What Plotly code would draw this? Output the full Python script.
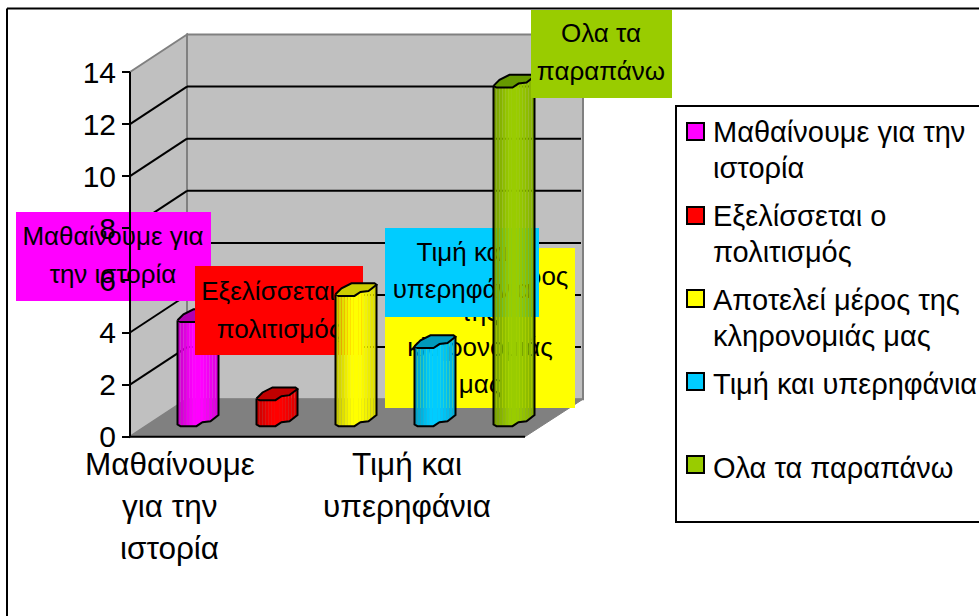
import plotly.graph_objects as go

# ---- data ----
categories = ["Μαθαίνουμε για την ιστορία", "Εξελίσσεται ο πολιτισμός",
              "Αποτελεί μέρος της κληρονομιάς μας", "Τιμή και υπερηφάνια", "Ολα τα παραπάνω"]
values = [4, 1, 5, 3, 13]
y_ticks = [0, 2, 4, 6, 8, 10, 12, 14]
colors = ["#FF00FF", "#FF0000", "#FFFF00", "#00CCFF", "#99CC00"]
caps = ["#B000B0", "#C00000", "#CCCC00", "#0099BB", "#669900"]

label_lines = [["Μαθαίνουμε για", "την ιστορία"],
               ["Εξελίσσεται ο", "πολιτισμός"],
               ["Αποτελεί μέρος", "της", "κληρονομιάς", "μας"],
               ["Τιμή και", "υπερηφάνια"],
               ["Ολα τα", "παραπάνω"]]
label_boxes = [(16, 212, 211, 301), (195, 266, 363, 355), (385, 248, 575, 408),
               (385, 228, 539, 317), (531, 10, 672, 98)]
label_line_y = [[238, 276], [293, 331], [278, 314, 349, 386], [254, 291], [35, 73]]
label_cx = [113, 279, 480, 462, 601]

legend_lines = [["Μαθαίνουμε για την", "ιστορία"], ["Εξελίσσεται ο", "πολιτισμός"],
                ["Αποτελεί μέρος της", "κληρονομιάς μας"], ["Τιμή και υπερηφάνια"], ["Ολα τα παραπάνω"]]
legend_line_y = [[132, 168], [216, 252], [300, 336], [384], [468]]
legend_box_y = [123, 207, 290, 373, 456]

axis_labels = {0: ["Μαθαίνουμε", "για την", "ιστορία"], 3: ["Τιμή και", "υπερηφάνια"]}
axis_label_y = [464, 506, 548]

# ---- geometry (canvas pixels) ----
W, H = 979, 616
UNIT = 26.05       # pixels per value unit
Y0_AXIS = 436.7    # pixel of value 0 on the front axis
Y0_BAR = 424.5     # pixel of value 0 at the foot of the columns
DEPTH = 37.5
SLOT = 79.0
X0_CAT = 169.5     # pixel of first category
BAR_LEFT0 = 177.5
BAR_W = 41

def X(px):
    return (px - X0_CAT) / SLOT
def YA(py):
    return (Y0_AXIS - py) / UNIT
def YB(py):
    return (Y0_BAR - py) / UNIT
def pxx(px):
    return px / W
def pxy(py):
    return 1 - py / H

range_x = [X(0), X(W)]
range_axis = [YA(H), YA(0)]
range_bar = [YB(H), YB(0)]

# front-edge profile of the low-poly column (pixel offsets)
PROF_DX = [0, 3, 19, 25, 33, 41]
PROF_DY = [0, 1.7, 1.7, -2.3, -3.3, -9.5]
CAP_DX = [0, 6, 16, 39, 41]
CAP_DY = [0, -6, -11, -11, -9.5]
SHADE = [0.78, 0.84, 0.88, 0.93, 0.97, 1, 1, 1, 1, 0.98, 0.96, 0.93, 0.9, 0.86]

def prof(dx):
    for k in range(len(PROF_DX) - 1):
        if PROF_DX[k] <= dx <= PROF_DX[k + 1]:
            t = (dx - PROF_DX[k]) / (PROF_DX[k + 1] - PROF_DX[k])
            return PROF_DY[k] + t * (PROF_DY[k + 1] - PROF_DY[k])
    return PROF_DY[-1]

def shade(hex_color, f):
    r, g, b = int(hex_color[1:3], 16), int(hex_color[3:5], 16), int(hex_color[5:7], 16)
    return f"rgb({int(r*f)},{int(g*f)},{int(b*f)})"

fig = go.Figure()

def yname(n):
    return "y" if n == 1 else f"y{n}"

def layer_y(layer, py):
    return YA(py) if layer == 1 else YB(py)

def add_label(i, layer):
    x0, y0, x1, y1 = label_boxes[i]
    fig.add_trace(go.Scatter(
        x=[X(x0), X(x1), X(x1), X(x0), X(x0)],
        y=[layer_y(layer, y0), layer_y(layer, y0), layer_y(layer, y1), layer_y(layer, y1), layer_y(layer, y0)],
        mode="lines", fill="toself", fillcolor=colors[i], line=dict(width=0),
        yaxis=yname(layer), showlegend=False, hoverinfo="skip"))
    fig.add_trace(go.Scatter(
        x=[X(label_cx[i])] * len(label_lines[i]),
        y=[layer_y(layer, v) for v in label_line_y[i]],
        text=label_lines[i], mode="text", textposition="middle center",
        textfont=dict(family="Liberation Sans", size=LABEL_FS, color="black"),
        yaxis=yname(layer), showlegend=False, hoverinfo="skip"))

def add_column(i, layer):
    v = values[i]
    left = BAR_LEFT0 + i * SLOT
    n = len(SHADE)
    sw = BAR_W / n
    xs, bases, ys, cols = [], [], [], []
    for s in range(n):
        mid = (s + 0.5) * sw
        off = -prof(mid) / UNIT
        xs.append(X(left + mid))
        bases.append(off)
        ys.append(v)
        cols.append(shade(colors[i], SHADE[s]))
    fig.add_trace(go.Bar(x=xs, y=ys, base=bases, width=sw / SLOT,
                         marker=dict(color=cols, line=dict(width=0)),
                         yaxis=yname(layer), name=categories[i], showlegend=False,
                         hoverinfo="skip"))
    # top cap
    cx = [X(left + d) for d in CAP_DX] + [X(left + d) for d in reversed(PROF_DX)]
    cy = [v - d / UNIT for d in CAP_DY] + [v - d / UNIT for d in reversed(PROF_DY)]
    fig.add_trace(go.Scatter(x=cx, y=cy, mode="lines", fill="toself", fillcolor=caps[i],
                             line=dict(color="black", width=2), yaxis=yname(layer),
                             showlegend=False, hoverinfo="skip"))
    # silhouette
    sx = [X(left)] + [X(left + d) for d in PROF_DX] + [X(left + BAR_W)]
    sy = [v] + [-d / UNIT for d in PROF_DY] + [v - PROF_DY[-1] / UNIT]
    fig.add_trace(go.Scatter(x=sx, y=sy, mode="lines", line=dict(color="black", width=2),
                             yaxis=yname(layer), showlegend=False, hoverinfo="skip"))

LABEL_FS = 26
TICK_FS = 30
LEG_FS = 29
CAT_FS = 31.5

# draw order, bottom to top
add_label(0, 1)
add_column(0, 2)
add_label(1, 3)
add_column(1, 4)
add_column(2, 4)
add_label(2, 5)
add_column(3, 6)
add_label(3, 7)
add_column(4, 8)
add_label(4, 9)

# walls, floor, grid
shapes = []
def poly(pts, fill, line=None, lw=0, layer="below"):
    path = "M" + " L".join(f"{pxx(a):.5f},{pxy(b):.5f}" for a, b in pts) + " Z"
    shapes.append(dict(type="path", path=path, xref="paper", yref="paper", fillcolor=fill,
                       line=dict(color=line or fill, width=lw), layer=layer))
def seg(x0, y0, x1, y1, color="black", lw=2, layer="below"):
    shapes.append(dict(type="line", x0=pxx(x0), x1=pxx(x1), y0=pxy(y0), y1=pxy(y1),
                       xref="paper", yref="paper", line=dict(color=color, width=lw), layer=layer))

AX_L, AX_R = 130, 525
BK_L, BK_R = AX_L + 57, AX_R + 58
def ay(v):
    return Y0_AXIS - v * UNIT

seg(7, 8.5, W + 5, 8.5, lw=2)
seg(7, 8.5, 7, H + 5, lw=2)
poly([(BK_L, ay(14) - DEPTH), (BK_R, ay(14) - DEPTH), (BK_R, ay(0) - DEPTH), (BK_L, ay(0) - DEPTH)], "#C0C0C0", "#808080", 2)
poly([(AX_L, ay(14)), (BK_L, ay(14) - DEPTH), (BK_L, ay(0) - DEPTH), (AX_L, ay(0))], "#C0C0C0", "#808080", 2)
poly([(AX_L, ay(0)), (BK_L, ay(0) - DEPTH), (BK_R, ay(0) - DEPTH), (AX_R, ay(0))], "#808080", "#808080", 1)
for t in y_ticks[1:-1]:
    seg(AX_L, ay(t), BK_L, ay(t) - DEPTH)
    seg(BK_L, ay(t) - DEPTH, BK_R - 2, ay(t) - DEPTH)
seg(AX_L, ay(0), AX_R, ay(0), lw=2)
# front axis line above the labels
seg(AX_L, ay(14), AX_L, ay(0), lw=2, layer="above")
# legend box
shapes.append(dict(type="rect", x0=pxx(676), x1=pxx(W + 5), y0=pxy(106), y1=pxy(522),
                   xref="paper", yref="paper", line=dict(color="black", width=2),
                   fillcolor="white", layer="below"))

annotations = []
def note(px, py, text, size, anchor):
    annotations.append(dict(x=pxx(px), y=pxy(py), xref="paper", yref="paper", text=text,
                            showarrow=False, xanchor=anchor, yanchor="middle",
                            font=dict(family="Liberation Sans", size=size, color="black")))
for i, lines in enumerate(legend_lines):
    b = legend_box_y[i]
    shapes.append(dict(type="rect", x0=pxx(687), x1=pxx(704), y0=pxy(b), y1=pxy(b + 17),
                       xref="paper", yref="paper", fillcolor=colors[i],
                       line=dict(color="black", width=2), layer="above"))
    for line, py in zip(lines, legend_line_y[i]):
        note(711, py, line, LEG_FS, "left")
for c, lines in axis_labels.items():
    for line, py in zip(lines, axis_label_y):
        note(X0_CAT + c * SLOT, py, line, CAT_FS, "center")

layout = dict(
    width=W, height=H, margin=dict(l=0, r=0, t=0, b=0), autosize=False,
    paper_bgcolor="white", plot_bgcolor="rgba(0,0,0,0)", barmode="overlay", showlegend=False,
    font=dict(family="Liberation Sans", color="black"),
    shapes=shapes, annotations=annotations,
    xaxis=dict(domain=[0, 1], range=range_x, visible=False, fixedrange=True),
    yaxis=dict(domain=[0, 1], range=range_axis, anchor="free", position=pxx(AX_L), side="left",
               tickmode="array", tickvals=y_ticks, ticks="outside", ticklen=8, tickwidth=2,
               tickcolor="black", showgrid=False, zeroline=False, showline=False,
               tickfont=dict(family="Liberation Sans", size=TICK_FS, color="black"),
               layer="above traces", fixedrange=True),
)
for n in range(2, 10):
    layout[f"yaxis{n}"] = dict(overlaying="y", range=range_bar, visible=False, fixedrange=True)
fig.update_layout(**layout)

fig.write_html("out.html", config=dict(displayModeBar=False),
               post_script="document.body.style.margin='0';document.body.style.overflow='hidden';")
